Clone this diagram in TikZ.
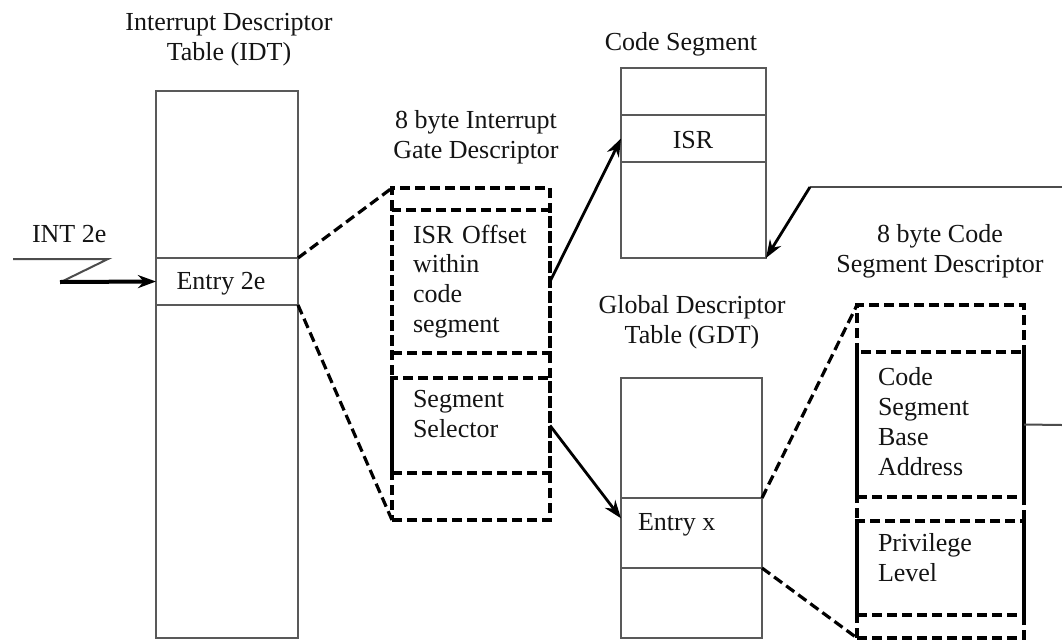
\documentclass[tikz,border=0pt]{standalone}
\usepackage{fontspec}
\setmainfont{Liberation Serif}
\usetikzlibrary{arrows.meta,calc}
\begin{document}
\begin{tikzpicture}[x=1pt,y=-1pt,
  every node/.style={font=\fontsize{26}{30}\selectfont, text=black!92, inner sep=0pt, outer sep=0pt},
  sbox/.style={draw=black!65, line width=2pt, rectangle},
  dbox/.style={draw=black, line width=3.5pt, dash pattern=on 10pt off 5pt, rectangle},
  dline/.style={draw=black, line width=3.2pt, dash pattern=on 10pt off 5pt},
  arr/.style={draw=black, line width=2.8pt, -{Stealth[length=18pt,width=13pt]}},
  thinl/.style={draw=black!70, line width=2pt},
  ttl/.style={align=center}
]
\useasboundingbox (0,0) rectangle (1062,640);
\fill[white] (0,0) rectangle (1062,640);

% boxes as nodes (placed by corner)
\newcommand{\bx}[6]{\node[#1, anchor=north west, minimum width=#4-#2, minimum height=#5-#3] (#6) at (#2,#3) {};}
\bx{sbox}{156}{91}{298}{638}{idt}
\bx{sbox}{156}{258}{298}{305}{entry}
\bx{sbox}{621}{68}{766}{258}{cs}
\bx{sbox}{621}{115}{766}{162}{isr}
\bx{sbox}{621}{378}{762}{638}{gdt}
\bx{sbox}{621}{498}{762}{568}{entryx}
\bx{dbox}{392}{188}{550}{520}{gate}
\bx{dbox}{392}{210}{550}{353}{isroff}
\bx{dbox}{392}{378}{550}{473}{segsel}
\bx{dbox}{857}{305}{1024}{638}{csd}
\bx{dbox}{857}{352}{1024}{497}{base}
\bx{dbox}{857}{521}{1024}{615}{priv}

% titles
\node[ttl] (tidt) at (229,40) {Interrupt Descriptor\\Table (IDT)};
\node[ttl] (tgate) at (476,137) {8 byte Interrupt\\Gate Descriptor};
\node[ttl] (tcs) at (681,44) {Code Segment};
\node[ttl] (tgdt) at (692,322) {Global Descriptor\\Table (GDT)};
\node[ttl] (tcsd) at (940,251) {8 byte Code\\Segment Descriptor};

% texts inside
\node (tentry) at (221,284) {Entry 2e};
\node (tisr) at (693,140) {ISR};
\node[anchor=base west] (tentryx) at (638,530) {Entry x};
\node[anchor=base west] (tint) at (32,242) {INT 2e};
\node[anchor=north west, align=left, text width=130pt] (tisroff) at (413,225) {\fontsize{26}{29.5}\selectfont ISR Offset\\within\\code\\segment};
\node[anchor=north west, align=left] (tsegsel) at (413,390) {\fontsize{26}{31}\selectfont Segment\\Selector};
\node[anchor=north west, align=left] (tbase) at (878,367) {\fontsize{26}{30}\selectfont Code\\Segment\\Base\\Address};
\node[anchor=north west, align=left] (tpriv) at (878,533) {\fontsize{26}{33}\selectfont Privilege\\Level};

% coordinates
\coordinate (i1) at (13,259);
\coordinate (i2) at (108,259);
\coordinate (i3) at (63,281);
\coordinate (i4) at (60,282);
\coordinate (r1) at (1062,187);
\coordinate (r2) at (810,187);
\coordinate (r3) at (1062,425);
\coordinate (ex) at ($(entryx.north west)!0.29!(entryx.south west)$);

% connectors
\draw[thinl] (i1) -- (i2) -- (i3);
\draw[arr, line width=4pt] (i4) -- (entry.west);
\draw[dline] (entry.north east) -- (gate.north west);
\draw[dline] (entry.south east) -- (gate.south west);
\draw[arr] (isroff.east) -- (isr.west);
\draw[arr] (segsel.east) -- (ex);
\draw[dline] (entryx.north east) -- (csd.north west);
\draw[dline] (entryx.south east) -- (csd.south west);
\draw[thinl] (base.east) -- (r3);
\draw[thinl] (r1) -- (r2);
\draw[arr] (r2) -- (cs.south east);
\end{tikzpicture}
\end{document}
